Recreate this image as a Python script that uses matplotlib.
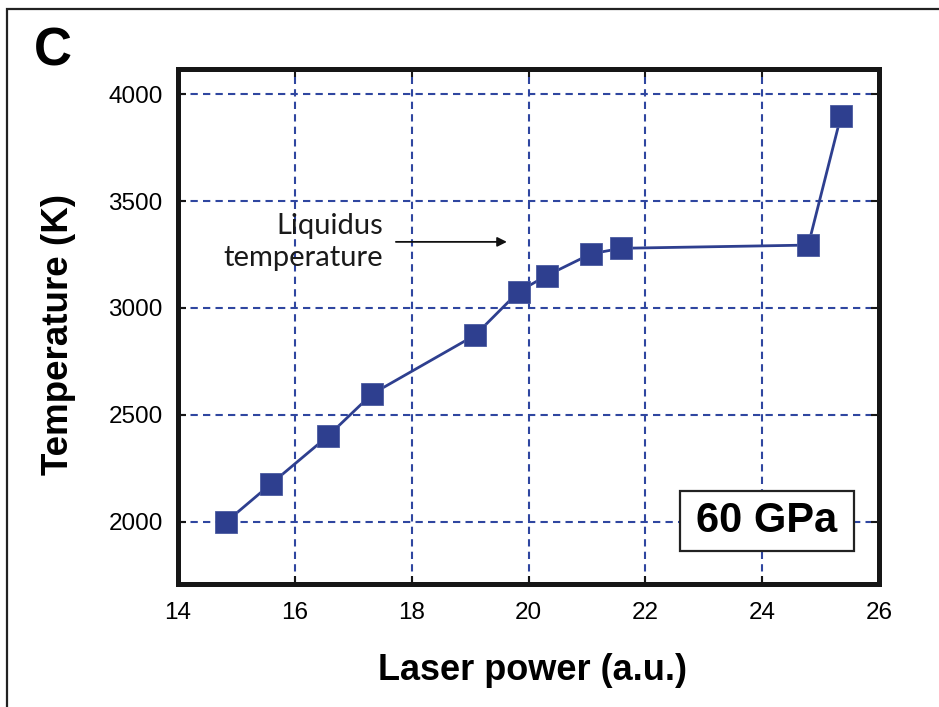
import matplotlib
matplotlib.use("Agg")
import matplotlib.pyplot as plt
from matplotlib.patches import Rectangle

plt.rcParams['font.family'] = ['Liberation Sans', 'DejaVu Sans']

# Data
laser_power = [14.83, 15.59, 16.57, 17.32, 19.09, 19.83, 20.31, 21.07, 21.59, 24.79, 25.35]
temperature = [2000, 2176, 2401, 2597, 2873, 3076, 3151, 3253, 3279, 3294, 3900]
x_ticks = [14, 16, 18, 20, 22, 24, 26]
y_ticks = [2000, 2500, 3000, 3500, 4000]

blue = '#2e3f8f'
grid_blue = '#2f46a0'

fig = plt.figure(figsize=(9.39, 7.07), dpi=100)
ax = fig.add_axes([178/939, 1-584/707, (879-178)/939, (584-69)/707])

ax.set_xlim(14, 26)
ax.set_ylim(1708, 4118)
ax.set_xticks(x_ticks)
ax.set_yticks(y_ticks)
ax.set_xticklabels([str(t) for t in x_ticks])
ax.set_yticklabels([str(t) for t in y_ticks])

for x in x_ticks[1:-1]:
    ax.axvline(x, color=grid_blue, lw=1.5, ls=(0, (3.5, 2.5)), zorder=1)
for y in y_ticks:
    ax.axhline(y, color=grid_blue, lw=1.5, ls=(0, (3.5, 2.5)), zorder=1)

ax.plot(laser_power, temperature, color=blue, lw=2, marker='s', ms=15.5,
        mfc=blue, mec='#4a5aa0', mew=0.6, zorder=4)

for s in ax.spines.values():
    s.set_linewidth(3.6)
    s.set_color('#161616')
    s.set_zorder(5)

ax.tick_params(direction='in', length=6, width=1.5, color='#161616',
               top=True, right=True, labelsize=17.5, pad=13)
ax.tick_params(axis='y', pad=11)

# Annotation
ax.annotate('', xy=(19.63, 3309), xytext=(17.73, 3309),
            arrowprops=dict(arrowstyle='-|>', color='#111111', lw=1.3,
                            mutation_scale=14, shrinkA=0, shrinkB=0), zorder=6)
ax.text(17.51, 3309, 'Liquidus\ntemperature', ha='right', va='center',
        fontsize=21, family=['Lato', 'DejaVu Sans'], linespacing=1.3,
        color='#1a1a1a', zorder=6)

# 60 GPa box
box = Rectangle((0.716, 0.064), 0.964-0.716, 0.181-0.064, transform=ax.transAxes,
                facecolor='white', edgecolor='#222222', lw=1.6, zorder=6)
ax.add_patch(box)
ax.text(0.840, 0.1225, '60 GPa', transform=ax.transAxes, ha='center', va='center',
        fontsize=30, fontweight='bold', zorder=7)

# Labels
fig.text(532/939, 1-680/707, 'Laser power (a.u.)', ha='center', va='baseline',
         fontsize=26, fontweight='bold')
fig.text(59/939, 1-334/707, 'Temperature (K)', ha='center', va='center',
         rotation=90, fontsize=26.5, fontweight='bold')
fig.text(34/939, 1-65/707, 'C', ha='left', va='baseline', fontsize=38, fontweight='bold')

# Outer frame
frame = Rectangle((7/939, -0.1), 1.2, 1.1 - 9/707, transform=fig.transFigure,
                  facecolor='none', edgecolor='#222222', lw=1.6)
fig.patches.append(frame)

fig.savefig('out.png', dpi=100)
